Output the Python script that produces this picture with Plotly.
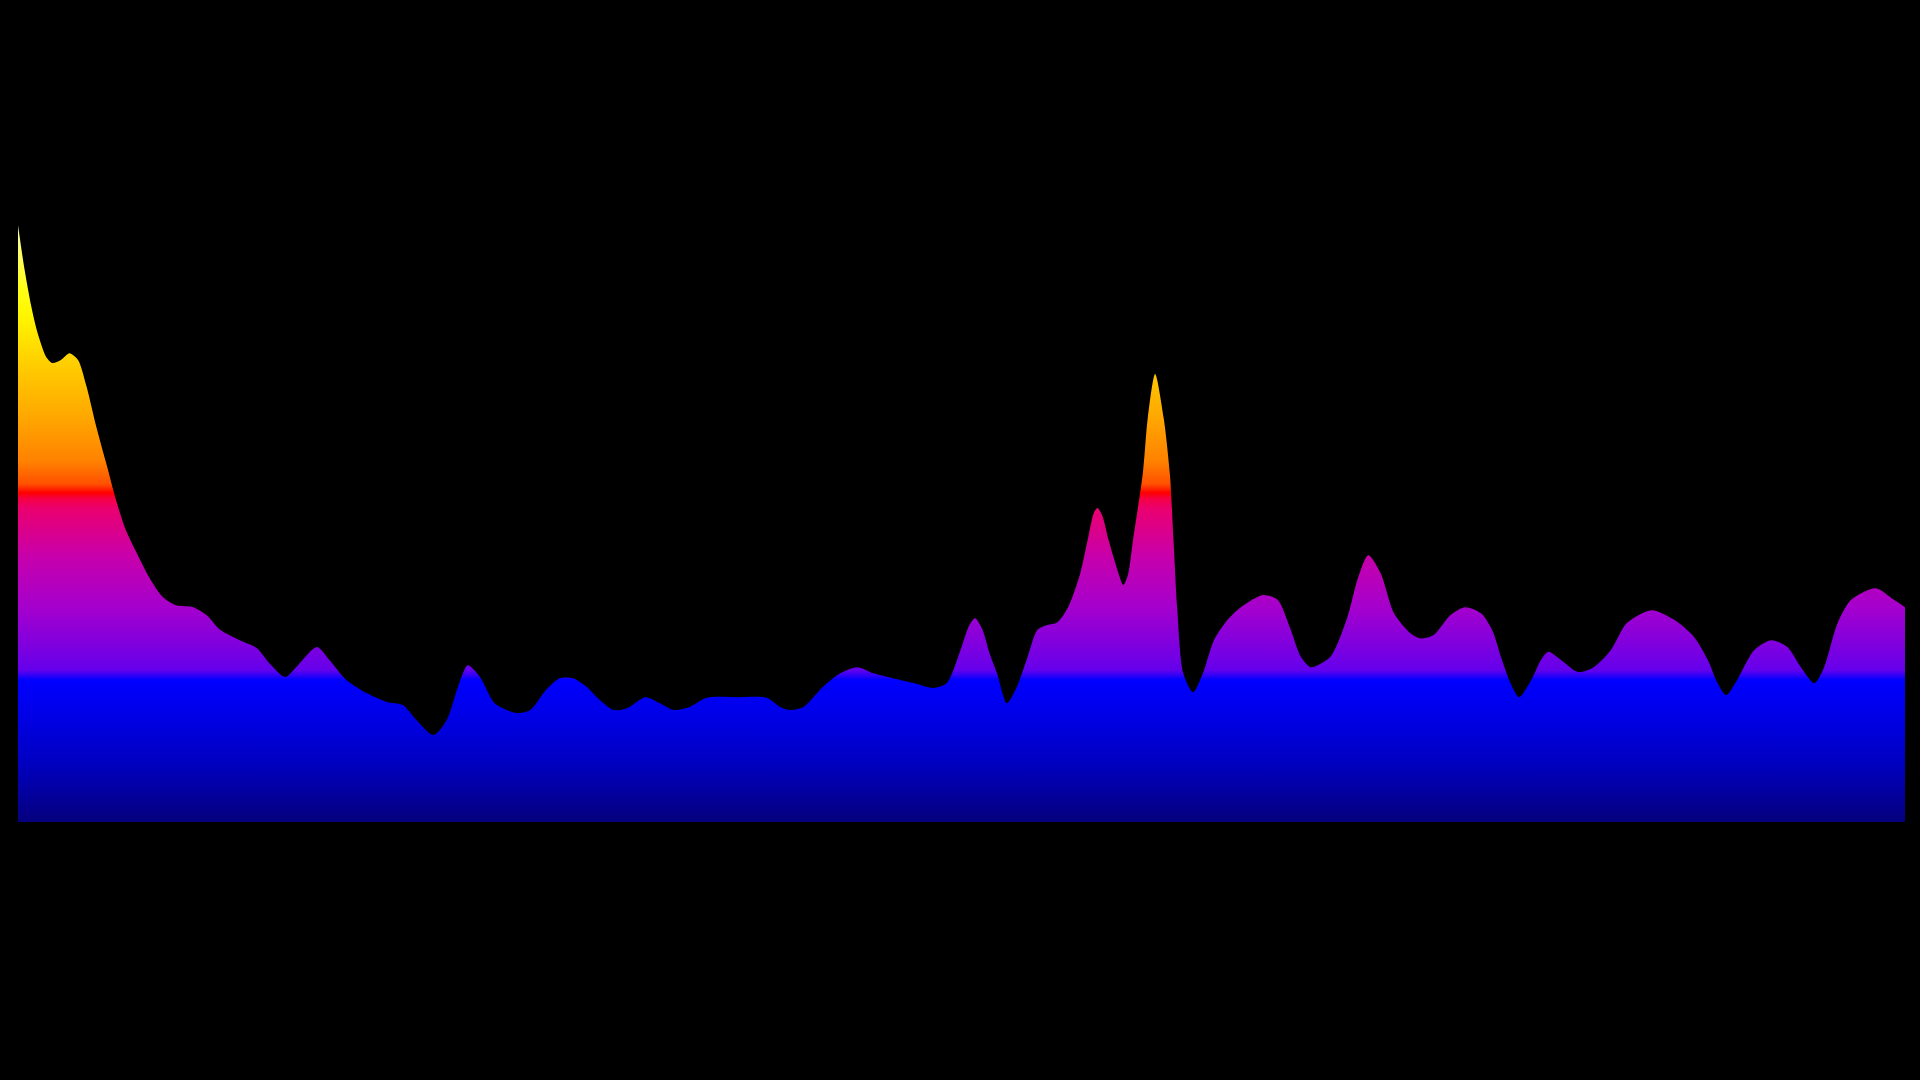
import plotly.graph_objects as go

# position along the series
x_vals = [0, 5, 11, 16, 23, 28, 35, 42, 49, 56, 64, 72, 80, 88, 97, 107, 118, 129, 143, 154,
          165, 181, 195, 205, 218, 227, 244, 254, 268, 284, 301, 314, 325, 339, 350, 359, 367, 377,
          389, 407, 418, 431, 442, 453, 464, 475, 486, 497, 512, 524, 535, 548, 562, 587, 611, 622,
          630, 641, 657, 671, 685, 698, 714, 731, 747, 758, 769, 776, 781, 787, 793, 799, 807, 815,
          824, 832, 840, 848, 857, 867, 873, 878, 881, 885, 890, 898, 902, 906, 910, 918, 922, 928,
          935, 940, 943, 946, 951, 959, 967, 976, 987, 998, 1016, 1028, 1038, 1047, 1055, 1071,
          1085, 1093, 1102, 1112, 1123, 1136, 1145, 1155, 1169, 1181, 1194, 1203, 1211, 1218, 1225,
          1235, 1243, 1249, 1259, 1273, 1286, 1300, 1313, 1333, 1352, 1368, 1379, 1387, 1394, 1403,
          1417, 1431, 1444, 1455, 1466, 1474, 1485, 1496, 1516, 1531, 1540]

# signal level
y_vals = [97.5, 90.7, 84.1, 79.9, 76.0, 75.0, 75.5, 76.6, 75.5, 71.1, 64.5, 58.6, 52.6, 47.7, 43.9,
          40.0, 36.8, 35.4, 35.1, 33.8, 31.4, 29.7, 28.4, 26.0, 23.7, 25.3, 28.6, 26.5, 23.2, 21.1,
          19.6, 19.1, 16.7, 14.2, 16.7, 22.0, 25.6, 23.7, 19.4, 17.8, 18.3, 21.6, 23.5, 23.5, 22.1,
          19.9, 18.3, 18.6, 20.4, 19.4, 18.3, 18.8, 20.3, 20.4, 20.3, 18.8, 18.3, 18.8, 22.1, 24.3,
          25.3, 24.3, 23.5, 22.7, 21.9, 22.7, 28.0, 32.0, 33.3, 31.5, 27.5, 24.3, 19.4, 22.0, 27.0,
          31.4, 32.2, 32.6, 35.1, 40.7, 46.1, 50.5, 51.3, 50.0, 46.1, 40.7, 38.7, 40.5, 46.1, 57.0,
          66.0, 73.2, 66.0, 57.0, 46.1, 35.1, 24.3, 21.2, 24.3, 29.7, 33.0, 35.1, 37.1, 36.3, 31.8,
          27.0, 25.3, 27.0, 33.5, 39.5, 43.6, 40.7, 34.1, 30.9, 30.0, 30.5, 33.8, 35.1, 34.1, 31.4,
          26.5, 22.7, 20.4, 23.2, 26.5, 27.8, 26.5, 24.5, 25.3, 28.1, 32.5, 34.6, 33.0, 30.2, 26.5,
          22.7, 20.7, 23.2, 28.1, 29.7, 28.6, 25.3, 22.7, 25.3, 32.5, 36.3, 38.2, 36.3, 35.1]

gradient_stops = [
    [0.0, "rgb(5,0,125)"],
    [0.10, "rgb(0,0,195)"],
    [0.20, "rgb(0,0,242)"],
    [0.232, "rgb(0,0,255)"],
    [0.248, "rgb(100,0,236)"],
    [0.265, "rgb(112,0,230)"],
    [0.297, "rgb(132,0,220)"],
    [0.351, "rgb(165,0,205)"],
    [0.436, "rgb(200,0,170)"],
    [0.513, "rgb(235,0,110)"],
    [0.528, "rgb(245,0,70)"],
    [0.538, "rgb(255,0,0)"],
    [0.552, "rgb(255,80,0)"],
    [0.590, "rgb(255,130,0)"],
    [0.667, "rgb(255,170,0)"],
    [0.737, "rgb(255,200,0)"],
    [0.824, "rgb(255,245,0)"],
    [0.869, "rgb(255,255,20)"],
    [0.935, "rgb(255,255,110)"],
    [1.0, "rgb(255,255,230)"],
]

fig = go.Figure()
fig.add_trace(go.Scatter(
    x=x_vals, y=y_vals,
    mode="lines",
    line=dict(width=0, shape="spline", smoothing=0.75, color="rgba(0,0,0,0)"),
    fill="tozeroy",
    fillgradient=dict(type="vertical", colorscale=gradient_stops, start=0, stop=100),
    hoverinfo="skip",
))

fig.update_layout(
    width=1920, height=1080,
    paper_bgcolor="black", plot_bgcolor="black",
    margin=dict(l=18, r=15, t=210, b=258),
    showlegend=False,
    xaxis=dict(visible=False, range=[0, 1540], showgrid=False, zeroline=False),
    yaxis=dict(visible=False, range=[0, 100], showgrid=False, zeroline=False),
)

fig.write_html(
    "out.html",
    config={"displayModeBar": False},
    post_script="document.body.style.margin='0';document.body.style.background='black';",
)
